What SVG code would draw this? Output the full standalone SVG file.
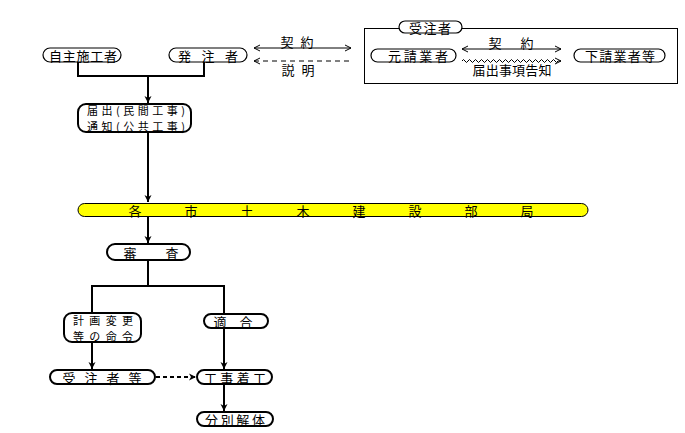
<svg xmlns="http://www.w3.org/2000/svg" width="685" height="433" viewBox="0 0 685 433">
<style>
text{font-family:"Noto Sans CJK JP","Noto Sans CJK SC",sans-serif;font-size:13px;fill:#000;text-anchor:middle;dominant-baseline:central}
text.s{font-size:11px}
.n1{fill:#fff;stroke:#000;stroke-width:1.2}
.n2{fill:#fff;stroke:#000;stroke-width:2}
.c{fill:none;stroke:#000;stroke-width:2}
.t{fill:none;stroke:#000;stroke-width:1}
</style>
<defs>
<marker id="ah" viewBox="0 0 8 8" refX="7" refY="4" markerWidth="8" markerHeight="8" markerUnits="userSpaceOnUse" orient="auto">
<path d="M0,0.5 L7,4 L0,7.5 L2,4 Z" fill="#000"/>
</marker>
<marker id="op" viewBox="0 0 8 8" refX="7" refY="4" markerWidth="8" markerHeight="8" markerUnits="userSpaceOnUse" orient="auto-start-reverse">
<path d="M1,1 L7,4 L1,7" fill="none" stroke="#000" stroke-width="1"/>
</marker>
</defs>
<g id="connectors">
<path class="c" d="M78,62 V76 H204 V62"/>
<path class="c" d="M148,76 V103" marker-end="url(#ah)"/>
<path class="c" d="M148,132 V202" marker-end="url(#ah)"/>
<path class="c" d="M148,217 V243" marker-end="url(#ah)"/>
<path class="c" d="M148,260 V286 M92,313 V286 H224 V314"/>
<path class="c" d="M92,342 V369" marker-end="url(#ah)"/>
<path class="c" d="M224,328 V369" marker-end="url(#ah)"/>
<path class="c" d="M224,384 V411" marker-end="url(#ah)"/>
<path class="c" d="M156,377 H196" stroke-dasharray="4,3" marker-end="url(#ah)"/>
<path class="t" d="M254,48 H351" marker-start="url(#op)" marker-end="url(#op)"/>
<path class="t" d="M254,61 H351" stroke-dasharray="5,4" marker-start="url(#op)"/>
<path class="t" d="M462,49 H561" marker-start="url(#op)" marker-end="url(#op)"/>
<path class="t" d="M462,61 q1.5,-3 3,0 t3,0 t3,0 t3,0 t3,0 t3,0 t3,0 t3,0 t3,0 t3,0 t3,0 t3,0 t3,0 t3,0 t3,0 t3,0 t3,0 t3,0 t3,0 t3,0 t3,0 t3,0 t3,0 t3,0 t3,0 t3,0 t3,0 t3,0 t3,0 t3,0 t3,0 t3,0 H561" marker-end="url(#op)"/>
</g>
<g id="labels">
<text x="297" y="41" textLength="33" lengthAdjust="spacing">契 約</text>
<text x="298" y="69" textLength="33" lengthAdjust="spacing">説 明</text>
<text x="511" y="42" textLength="45" lengthAdjust="spacing">契 約</text>
<text x="512" y="69" textLength="79" lengthAdjust="spacing">届出事項告知</text>
</g>
<g id="jyuchusha-group">
<rect x="364.5" y="28.5" width="313" height="55" fill="none" stroke="#000" stroke-width="1"/>
<rect class="n1" x="399" y="21" width="63" height="12" rx="6"/>
<text x="430" y="27" textLength="42" lengthAdjust="spacing">受注者</text>
</g>
<g id="jishu"><rect class="n1" x="43" y="48" width="78" height="14" rx="7"/><text x="83" y="55" textLength="68" lengthAdjust="spacing">自主施工者</text></g>
<g id="hatchusha"><rect class="n1" x="169" y="48" width="78" height="14" rx="7"/><text x="208" y="55" textLength="60" lengthAdjust="spacing">発 注 者</text></g>
<g id="motouke"><rect class="n1" x="371" y="49" width="85" height="13" rx="6.5"/><text x="418" y="55.5" textLength="60" lengthAdjust="spacing">元請業者</text></g>
<g id="shitauke"><rect class="n1" x="574" y="49" width="91" height="13" rx="6.5"/><text x="620" y="55.5" textLength="70" lengthAdjust="spacing">下請業者等</text></g>
<g id="todokede"><rect class="n2" x="78" y="104" width="113" height="28" rx="8"/><text class="s" x="136" y="110" textLength="98" lengthAdjust="spacing">届出(民間工事)</text><text class="s" x="136" y="126" textLength="98" lengthAdjust="spacing">通知(公共工事)</text></g>
<g id="bureau"><rect x="78" y="203.5" width="510" height="13" rx="6.5" fill="#ffff00" stroke="#000" stroke-width="1"/>
<text x="135" y="210">各</text><text x="191" y="210">市</text><text x="247" y="210">土</text><text x="303" y="210">木</text><text x="359" y="210">建</text><text x="415" y="210">設</text><text x="471" y="210">部</text><text x="527" y="210">局</text></g>
<g id="shinsa"><rect class="n2" x="107" y="244" width="83" height="16" rx="8"/><text x="130" y="252">審</text><text x="172" y="252">査</text></g>
<g id="keikaku"><rect class="n2" x="64" y="313" width="77" height="29" rx="8"/><text class="s" x="103" y="319.5" textLength="60" lengthAdjust="spacing">計画変更</text><text class="s" x="103" y="335.5" textLength="60" lengthAdjust="spacing">等の命令</text></g>
<g id="tekigo"><rect class="n2" x="204" y="314" width="64" height="14" rx="7"/><text x="220" y="321">適</text><text x="246" y="321">合</text></g>
<g id="jyuchushara"><rect class="n2" x="50" y="370" width="105" height="14" rx="7"/><text x="102" y="377" textLength="79" lengthAdjust="spacing">受 注 者 等</text></g>
<g id="chakko"><rect class="n2" x="197" y="370" width="75" height="14" rx="7"/><text x="235" y="377" textLength="62" lengthAdjust="spacing">工事着工</text></g>
<g id="bunbetsu"><rect class="n2" x="197" y="412" width="76" height="14" rx="7"/><text x="235" y="419" textLength="60" lengthAdjust="spacing">分別解体</text></g>
</svg>
